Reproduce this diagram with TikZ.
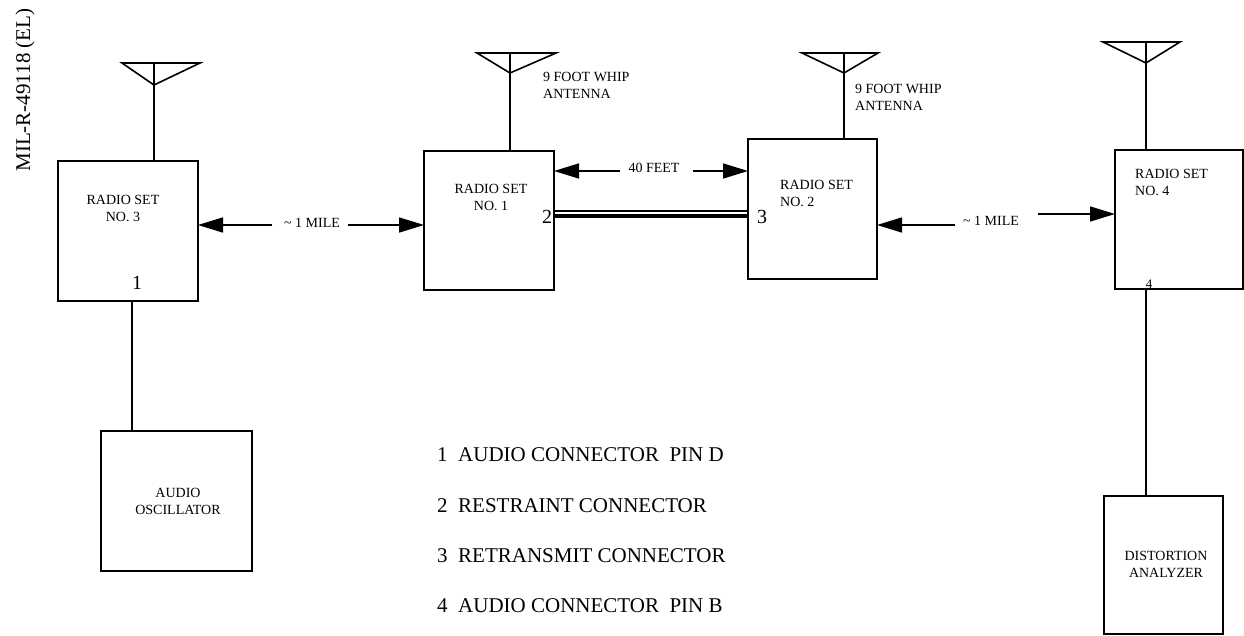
\documentclass[tikz,border=0pt]{standalone}
\usepackage{fontspec}
\setmainfont{Liberation Serif}
\usetikzlibrary{arrows.meta,calc}
\begin{document}
\begin{tikzpicture}[x=1pt,y=-1pt,
  box/.style={draw,line width=1.6pt,inner sep=0pt,outer sep=0pt},
  wire/.style={line width=1.6pt},
  arr/.style={line width=1.6pt,-{Triangle[length=25pt,width=15pt]}},
  lbl/.style={font=\fontsize{14}{17}\selectfont,inner sep=0pt},
  pin/.style={font=\fontsize{20}{22}\selectfont,inner sep=0pt},
  legend/.style={font=\fontsize{21}{24}\selectfont,inner sep=0pt,anchor=west}]
\useasboundingbox (0,0) rectangle (1244,635);
% boxes
\node[box,minimum width=140pt,minimum height=140pt] (r3) at (128,231) {};
\node[box,minimum width=130pt,minimum height=139pt] (r1) at (489,220.5) {};
\node[box,minimum width=129pt,minimum height=140pt] (r2) at (812.5,209) {};
\node[box,minimum width=128pt,minimum height=139pt] (r4) at (1179,219.5) {};
\node[box,minimum width=151pt,minimum height=140pt] (osc) at (176.5,501) {};
\node[box,minimum width=119pt,minimum height=138pt] (dist) at (1163.5,565) {};
% box texts
\node[lbl,align=center] (t3) at (123,208) {RADIO SET\\NO. 3};
\node[lbl,align=center] (t1) at (491,197) {RADIO SET\\NO. 1};
\node[lbl,align=left,anchor=north west] (t2) at (780,180) {RADIO SET\\NO. 2};
\node[lbl,align=left,anchor=north west] (t4) at (1135,169) {RADIO SET\\NO. 4};
\node[lbl,align=center] (to) at (178,501) {AUDIO\\OSCILLATOR};
\node[lbl,align=center] (td) at (1166,564) {DISTORTION\\ANALYZER};
% pin numbers
\node[pin] (n1) at (137,283) {1};
\node[pin] (n2) at (547,217) {2};
\node[pin] (n3) at (762,217) {3};
\node[inner sep=0pt,font=\fontsize{13}{14}\selectfont] (n4) at (1149,284) {4};
% antennas
\coordinate (a3) at (154,63);
\coordinate (a1) at (510,53);
\coordinate (a2) at (844,53);
\coordinate (a4) at (1146,42);
\draw[wire] (a3) -- (a3 |- r3.north);
\draw[wire] (a1) -- (a1 |- r1.north);
\draw[wire] (a2) -- (a2 |- r2.north);
\draw[wire] (a4) -- (a4 |- r4.north);
\draw[wire,line join=miter] ($(a3)+(-32,0)$) -- ($(a3)+(46,0)$) -- ($(a3)+(0,22)$) -- cycle;
\draw[wire,line join=miter] ($(a1)+(-33,0)$) -- ($(a1)+(46,0)$) -- ($(a1)+(0,20)$) -- cycle;
\draw[wire,line join=miter] ($(a2)+(-42,0)$) -- ($(a2)+(34,0)$) -- ($(a2)+(0,20)$) -- cycle;
\draw[wire,line join=miter] ($(a4)+(-43,0)$) -- ($(a4)+(34,0)$) -- ($(a4)+(0,21)$) -- cycle;
\node[lbl,align=left,anchor=north west] (w1) at (543,72) {9 FOOT WHIP\\ANTENNA};
\node[lbl,align=left,anchor=north west] (w2) at (855,84) {9 FOOT WHIP\\ANTENNA};
% vertical links
\coordinate (c1) at (132,0);
\coordinate (c4) at (1146,0);
\draw[wire] (r3.south -| c1) -- (osc.north -| c1);
\draw[wire] (r4.south -| c4) -- (dist.north -| c4);
% distance arrows
\node[lbl] (m1) at (312,223) {\char"007E\ 1 MILE};
\coordinate (m1l) at (272,225);
\coordinate (m1r) at (348,225);
\draw[arr] (m1l) -- (r3.east |- m1l);
\draw[arr] (m1r) -- (r1.west |- m1r);
\node[lbl] (f40) at (654,168) {40 FEET};
\coordinate (fl) at (620,171);
\coordinate (fr) at (693,171);
\draw[arr] (fl) -- (r1.east |- fl);
\draw[arr] (fr) -- (r2.west |- fr);
\node[lbl] (m2) at (991,221) {\char"007E\ 1 MILE};
\coordinate (m2l) at (955,225);
\coordinate (m2r) at (1038,214);
\draw[arr] (m2l) -- (r2.east |- m2l);
\draw[arr] (m2r) -- (r4.west |- m2r);
% restraint / retransmit cable
\coordinate (ca) at (0,211);
\coordinate (cb) at (0,216);
\draw[line width=1.3pt] (r1.east |- ca) -- (r2.west |- ca);
\draw[line width=4.5pt] (r1.east |- cb) -- (r2.west |- cb);
% side text
\node[rotate=90,inner sep=0pt,font=\fontsize{21}{24}\selectfont] (doc) at (25,90) {MIL-R-49118 (EL)};
% legend
\node[legend] (l1) at (437,455) {1\ \ AUDIO CONNECTOR\ \ PIN D};
\node[legend] (l2) at (437,506) {2\ \ RESTRAINT CONNECTOR};
\node[legend] (l3) at (437,556) {3\ \ RETRANSMIT CONNECTOR};
\node[legend] (l4) at (437,606) {4\ \ AUDIO CONNECTOR\ \ PIN B};
\end{tikzpicture}
\end{document}
